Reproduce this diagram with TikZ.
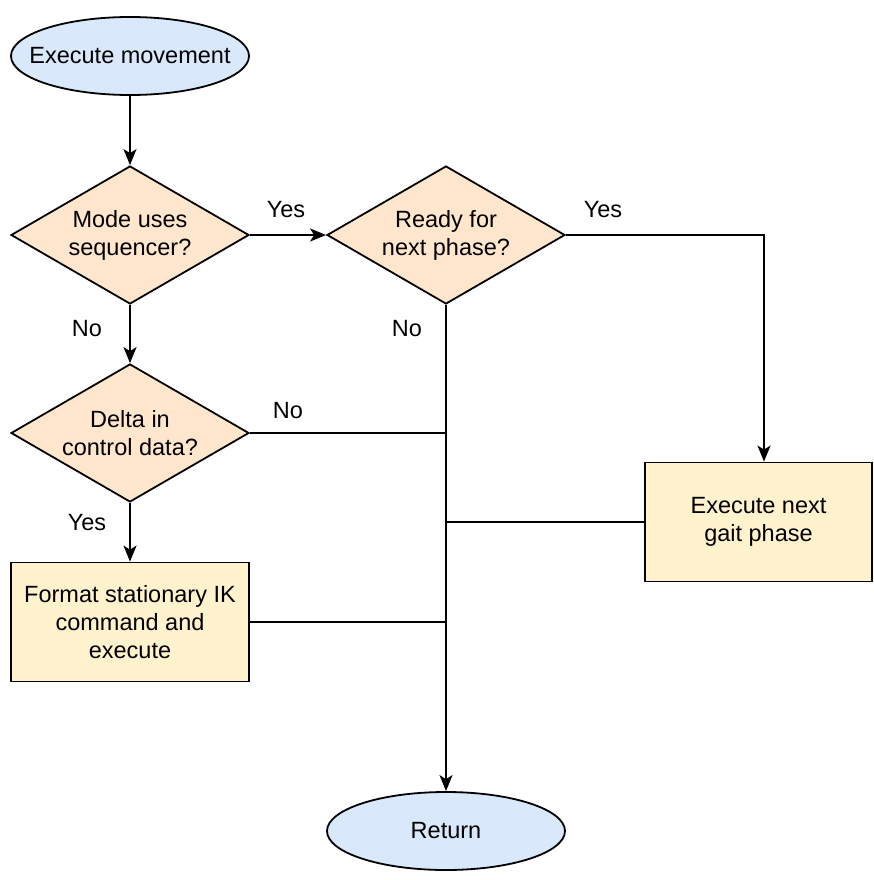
\documentclass[tikz,border=0pt]{standalone}
\usepackage{fontspec}
\setmainfont{Liberation Sans}
\usetikzlibrary{shapes.geometric,arrows.meta}
\definecolor{termfill}{HTML}{DAE8FC}
\definecolor{decfill}{HTML}{FFE6CC}
\definecolor{procfill}{HTML}{FFF2CC}
\begin{document}
\begin{tikzpicture}[x=1pt,y=-1pt,
  every node/.style={font=\fontsize{23.5}{28}\selectfont, align=center},
  term/.style={ellipse, draw, line width=1.8pt, fill=termfill, minimum width=238pt, minimum height=78pt, inner xsep=-40pt, inner ysep=0pt},
  dec/.style={diamond, draw, line width=1.8pt, fill=decfill, minimum width=238pt, minimum height=138pt, inner sep=0pt, aspect=1.72},
  proc/.style={rectangle, draw, line width=1.8pt, fill=procfill, minimum height=119pt, inner sep=0pt},
  conn/.style={line width=1.8pt},
  arr/.style={conn, -{Stealth[length=16pt,width=13pt,inset=4pt]}},
  lbl/.style={inner sep=0pt}]
\useasboundingbox (0,0) rectangle (873,880);
\node[term] (E) at (130,56) {Execute movement};
\node[dec] (D1) at (130,235) {Mode uses\\sequencer?};
\node[dec] (D2) at (446,235) {Ready for\\next phase?};
\node[dec] (D3) at (130,433) {Delta in\\control data?};
\node[proc, minimum width=238pt] (IK) at (130,622) {Format stationary IK\\command and\\execute};
\node[proc, minimum width=227pt] (G) at (758.5,522) {Execute next\\gait phase};
\node[term] (R) at (446,831) {Return};
\draw[arr] (E) -- (D1);
\draw[arr] (D1) -- (D2);
\draw[arr] (D2.east) -| ([xshift=5.5pt]G.north);
\draw[arr] (D2.south) -- (R.north);
\draw[arr] (D1.south) -- (D3.north);
\draw[arr] (D3.south) -- (IK.north);
\draw[conn] (D3.east) -- (D3.east -| R.north);
\draw[conn] (IK.east) -- (IK.east -| R.north);
\draw[conn] (G.west) -- (G.west -| R.north);
\node[lbl] (l1) at (286,210) {Yes};
\node[lbl] (l2) at (603,210) {Yes};
\node[lbl] (l3) at (87,329) {No};
\node[lbl] (l4) at (407,329) {No};
\node[lbl] (l5) at (288,411) {No};
\node[lbl] (l6) at (87,523) {Yes};
\end{tikzpicture}
\end{document}
